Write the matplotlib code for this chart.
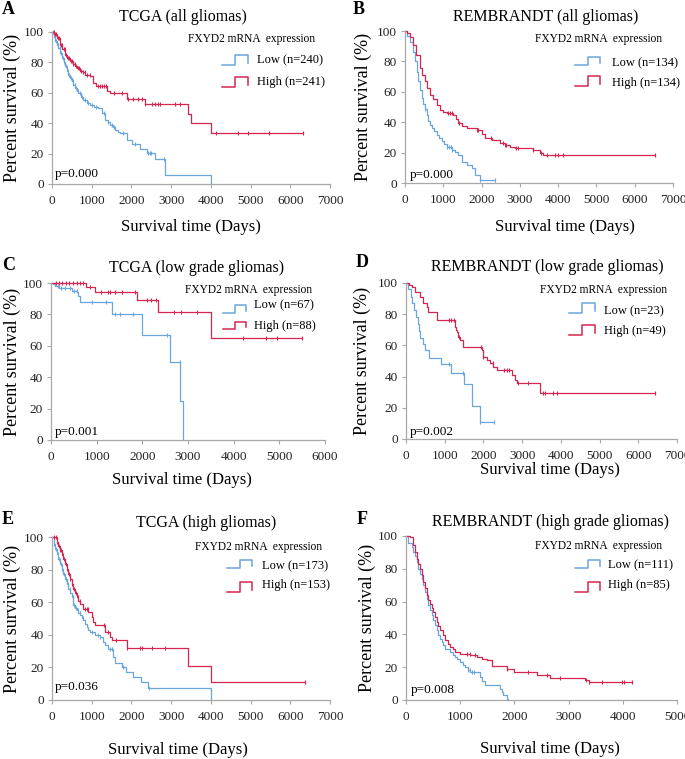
import numpy as np
import matplotlib
matplotlib.use("Agg")
import matplotlib.pyplot as plt
from matplotlib.lines import Line2D

plt.rcParams['font.family'] = ['Liberation Serif', 'DejaVu Serif']

W, H = 685, 759
LOW_COL = '#6aa6de'
HIGH_COL = '#d42650'
AX_COL = '#a8a8a8'

# ---------------------------------------------------------------------------
# survival data (days, percent survival)
# A: TCGA all gliomas
a_low_t = [0, 40, 75, 120, 160, 200, 244, 290, 328, 370, 412, 455, 496, 540, 580, 620, 664,
           730, 790, 870, 958, 1060, 1168, 1252, 1336, 1400, 1462, 1530, 1588, 1650, 1714,
           1882, 2008, 2218, 2386, 2596, 2850, 4008, 4008]
a_low_s = [100, 97, 94, 91.5, 89.5, 86, 83, 80, 77.4, 74.5, 72, 69.5, 67.5, 65, 63, 61.5, 60,
           57.5, 55.5, 53.5, 51.8, 50.8, 50, 46.7, 42, 40.5, 39, 37.5, 35.7, 34.5, 33.5,
           29, 26.3, 22.8, 20.2, 16.2, 5.9, 5.9, 0]
a_low_c = [30, 70, 110, 150, 190, 230, 270, 310, 350, 400, 440, 480, 520, 570, 610, 660, 700,
           760, 820, 900, 1000, 1100, 1320, 1420, 1500, 1560, 1800, 2092, 2420, 2470, 2500,
           2810]
a_high_t = [0, 60, 120, 200, 260, 328, 390, 454, 520, 580, 640, 706, 770, 832, 900, 958, 1042,
            1110, 1378, 1462, 1882, 2345, 3420, 3504, 4008, 6330]
a_high_s = [100, 98.5, 96, 91.7, 88.5, 85, 83, 80.7, 79, 77.4, 76, 74.6, 73.5, 72, 71.5, 70.8,
            66.4, 64.5, 61.5, 60, 56, 52.6, 46, 40, 33.3, 33.3]
a_high_c = [40, 80, 110, 150, 180, 220, 250, 290, 320, 360, 400, 430, 470, 500, 540, 570, 610,
            650, 690, 730, 780, 830, 880, 950, 1150, 1220, 1260, 1300, 1350, 1560, 1756, 1924,
            2050, 2176, 2260, 2345, 2512, 2596, 2680, 2722, 3100, 3226, 4134, 4672, 4924,
            5470, 6330]

# B: REMBRANDT all gliomas
b_low_t = [0, 60, 130, 200, 260, 305, 350, 390, 435, 475, 520, 565, 610, 650, 695, 760, 826,
           890, 957, 1020, 1087, 1217, 1300, 1390, 1478, 1610, 1740, 1826, 1957, 2350]
b_low_s = [100, 97, 93, 86, 80, 73, 67, 61, 56, 52, 49, 44.5, 40.6, 38, 36, 34, 31.8,
           29.5, 27.4, 25.5, 24, 22, 20.5, 18.6, 14, 12, 10, 5.5, 2, 2]
b_low_c = [520, 1110, 1150, 1190, 1230, 1957, 2350]
b_high_t = [0, 60, 130, 217, 300, 390, 455, 520, 585, 650, 740, 830, 913, 1000, 1087, 1260,
            1320, 1390, 1500, 1610, 1870, 2000, 2090, 2260, 2480, 2610, 2740, 2870, 3350,
            3520, 3610, 6520]
b_high_s = [100, 99, 96, 91, 84, 75.7, 71, 67, 62.5, 58, 55, 51, 48, 47, 46, 45,
            42, 39.5, 37.5, 36, 35, 32, 29.6, 28.5, 26, 25, 24, 23, 22,
            19.7, 18.3, 18.3]
b_high_c = [1130, 1170, 1220, 1400, 1870, 1910, 2250, 2570, 2610, 2650, 2910, 2960, 3350,
            3565, 3700, 3913, 4000, 4130, 6520]

# C: TCGA low grade gliomas
c_low_t = [0, 45, 95, 170, 460, 570, 600, 630, 640, 1340, 1990, 2610, 2830, 2860, 2880]
c_low_s = [100, 99.5, 98, 97, 95, 94, 92, 91, 88, 80, 67, 50, 25, 25, 0]
c_low_c = [80, 150, 220, 300, 420, 500, 560, 900, 1200, 1400, 1500, 1800, 2550, 2820]
c_high_t = [0, 770, 970, 1880, 2350, 3500, 5490]
c_high_s = [100, 97.5, 94, 89.4, 81.4, 65, 65]
c_high_c = [100, 180, 250, 320, 400, 480, 560, 640, 700, 850, 1100, 1250, 1300, 1400, 1550,
            1850, 2100, 2200, 2300, 2700, 2850, 3200, 4200, 4700, 4950, 5490]

# D: REMBRANDT low grade gliomas
d_low_t = [0, 40, 130, 160, 200, 270, 300, 330, 360, 450, 500, 600, 900, 1170, 1500, 1700,
           1920, 2280]
d_low_s = [100, 96, 91, 87, 83, 78, 74, 69, 65, 61, 57, 52, 48, 42, 35, 21, 10.6, 10.6]
d_low_c = [1100, 1480, 1920, 2280]
d_high_t = [0, 80, 147, 233, 362, 448, 534, 578, 793, 1267, 1290, 1310, 1353, 1397, 1483,
            1965, 2000, 2086, 2172, 2260, 2345, 2733, 2818, 2870, 3470, 6440]
d_high_s = [100, 98.5, 97.6, 94.4, 91, 87, 84.8, 81.6, 76.3, 72, 70, 68.8, 65.6, 63.5, 59,
            57, 52.8, 50.6, 48.5, 46.4, 44.2, 41, 37.8, 35.7, 29.8, 29.8]
d_high_c = [1100, 1160, 1250, 1380, 1930, 2000, 2240, 2540, 2600, 2650, 2900, 3150, 3550,
            3600, 3800, 3900, 6440]

# E: TCGA high gliomas
e_low_t = [0, 40, 76, 120, 160, 200, 244, 286, 328, 370, 412, 454, 496, 538, 580, 622, 664,
           706, 750, 790, 830, 874, 916, 958, 1084, 1210, 1294, 1336, 1420, 1540, 1580, 1750,
           1875, 2040, 2250, 2420, 4015, 4015]
e_low_s = [100, 96, 92.8, 89.7, 86.7, 83.7, 80.6, 77.5, 74.4, 71.3, 68.3, 65.7, 63, 58, 56.5,
           55, 53.5, 52, 50.5, 48.9, 46.8, 44.8, 43.2, 41.7, 39.7, 38.7, 35.6, 33.5, 31.5, 26.5,
           22.4, 20.4, 17.3, 14.3, 11, 7.5, 7.5, 0]
e_low_c = [60, 100, 140, 180, 220, 260, 300, 350, 400, 450, 520, 560, 600, 650, 700, 780,
           1000, 1150, 1210, 1460, 1500, 1800, 2450]
e_high_t = [0, 118, 160, 200, 245, 286, 330, 370, 410, 454, 496, 538, 580, 622, 664, 706, 790,
            916, 1000, 1042, 1084, 1336, 1462, 1504, 1882, 3430, 4015, 6370]
e_high_s = [100, 97, 94.5, 91.8, 89, 86.7, 83.5, 80.5, 77.5, 74.4, 71.3, 68.3, 65.5, 63.2, 61,
            59, 56, 53.8, 50.9, 47.9, 45.8, 41.7, 38.7, 36.6, 31.6, 21, 10.8, 10.8]
e_high_c = [60, 100, 130, 170, 200, 230, 270, 300, 340, 380, 420, 460, 500, 550, 600, 650,
            700, 820, 880, 900, 1300, 1420, 1600, 1882, 2220, 2260, 2510, 2850, 6370]

# F: REMBRANDT high grade gliomas
f_low_t = [0, 43, 105, 135, 166, 197, 227, 258, 289, 320, 350, 381, 412, 443, 474, 504, 535,
           566, 597, 627, 658, 689, 720, 812, 858, 904, 950, 996, 1043, 1089, 1135, 1181, 1365,
           1410, 1458, 1734, 1765, 1796, 1857, 1890]
f_low_s = [100, 96, 93, 90.5, 88, 84, 80, 77, 74, 70, 65.8, 61.7, 57.7, 54.6, 51.6, 48.5, 45.5,
           42.4, 39.4, 37.4, 35.4, 33.3, 31.3, 29.3, 27.7, 26.2, 24.7, 23.2, 21.6, 20.1, 18.5,
           17, 14, 11.5, 9, 6.9, 4.8, 2.8, 0.8, 0]
f_low_c = [1150, 1180, 1210, 1250]
f_high_t = [0, 74, 135, 166, 197, 228, 258, 289, 320, 350, 381, 412, 443, 474, 504, 535, 566,
            597, 627, 674, 720, 766, 812, 858, 904, 996, 1181, 1304, 1400, 1488, 1580, 1860,
            2000, 2410, 2660, 3305, 3370, 4170]
f_high_s = [100, 99.4, 94.3, 90, 86, 83, 80, 76, 72, 68, 63.8, 61.2, 58.7, 56.2, 53.7, 50.6,
            47.6, 45, 42.5, 39.5, 36.4, 34.3, 32.3, 30.8, 29.3, 28.3, 27.6, 26.2, 25.2, 24.2,
            21, 19, 17.3, 15.2, 13.6, 12.2, 11.2, 11.2]
f_high_c = [1120, 1180, 1270, 1860, 2250, 2600, 2850, 3320, 3380, 3620, 3980, 4020, 4170]

titles = ["TCGA (all gliomas)", "REMBRANDT (all gliomas)", "TCGA (low grade gliomas)",
          "REMBRANDT (low grade gliomas)", "TCGA (high gliomas)",
          "REMBRANDT (high grade gliomas)"]
letters = ["A", "B", "C", "D", "E", "F"]
n_low = [240, 134, 67, 23, 173, 111]
n_high = [241, 134, 88, 49, 153, 85]
pvals = ["0.000", "0.000", "0.001", "0.002", "0.036", "0.008"]
xmax = [7000, 7000, 6000, 7000, 7000, 5000]

curves = [
    (a_low_t, a_low_s, a_low_c, a_high_t, a_high_s, a_high_c),
    (b_low_t, b_low_s, b_low_c, b_high_t, b_high_s, b_high_c),
    (c_low_t, c_low_s, c_low_c, c_high_t, c_high_s, c_high_c),
    (d_low_t, d_low_s, d_low_c, d_high_t, d_high_s, d_high_c),
    (e_low_t, e_low_s, e_low_c, e_high_t, e_high_s, e_high_c),
    (f_low_t, f_low_s, f_low_c, f_high_t, f_high_s, f_high_c),
]

# ---------------------------------------------------------------------------
# layout in pixels of the original figure
# axes: left, right, top, bottom
axbox = [(52, 330, 32, 184), (405, 673, 31, 183), (51, 325, 283, 440),
         (406, 677, 283, 439), (52, 330, 537, 700), (406, 677, 536, 700)]
title_xy = [(183, 17), (546, 17), (197, 268), (547, 267), (206, 523), (551, 522)]
letter_xy = [(2, 9), (353, 9), (2, 265), (356, 263), (2, 520), (357, 520)]
ylab_x = [12, 363, 12, 362, 12, 367]
xlab_xy = [(191, 227), (565, 227), (182, 480), (550, 470), (178, 750), (550, 749)]
p_xy = [(55, 174), (410, 175), (55, 432), (410, 432), (55, 687), (411, 690)]
# header (left x, y), entry text left x, Low y, High y, glyph x0, x1,
# low glyph bottom/top, high glyph bottom/top
leg = [
    (188, 39, 257, 60, 82, 222, 248, 65, 55, 87, 77),
    (535, 39, 612, 63, 83, 575, 600, 65, 57, 86, 76),
    (185, 290, 254, 305, 326, 223, 246, 313, 305, 329, 322),
    (540, 290, 604, 311, 331, 569, 595, 313, 303, 335, 325),
    (195, 547, 262, 566, 585, 227, 252, 568, 560, 592, 582),
    (535, 546, 608, 565, 585, 575, 600, 568, 560, 592, 582),
]


def fx(x):
    return x / W


def fy(y):
    return 1 - y / H


def step_val(t, s, c):
    # value of the step curve at the censoring times
    t = np.asarray(t)
    s = np.asarray(s)
    idx = np.searchsorted(t, c, side='right') - 1
    return s[idx]


def glyph(fig, x0, x1, yb, yt, col):
    xm = x0 + (x1 - x0) * 0.5
    xs = [fx(x0), fx(xm), fx(xm), fx(x1), fx(x1)]
    ys = [fy(yb), fy(yb), fy(yt), fy(yt), fy(yb - 2)]
    fig.add_artist(Line2D(xs, ys, color=col, lw=1.1, transform=fig.transFigure))


fig = plt.figure(figsize=(W / 100, H / 100), dpi=100)

for i in range(6):
    l, r, t, b = axbox[i]
    ax = fig.add_axes([fx(l), fy(b), (r - l) / W, (b - t) / H])
    lt, ls, lc, ht, hs, hc = curves[i]

    ax.step(lt, ls, where='post', color=LOW_COL, lw=0.9, clip_on=False)
    ax.plot(lc, step_val(lt, ls, lc), '|', color=LOW_COL, ms=3.5, mew=0.8, clip_on=False)
    ax.step(ht, hs, where='post', color=HIGH_COL, lw=0.9, clip_on=False)
    ax.plot(hc, step_val(ht, hs, hc), '|', color=HIGH_COL, ms=3.5, mew=0.8, clip_on=False)

    ax.set_xlim(0, xmax[i])
    ax.set_ylim(0, 100)
    ax.set_xticks(np.arange(0, xmax[i] + 1, 1000))
    ax.set_yticks(np.arange(0, 101, 20))
    for side in ['top', 'right']:
        ax.spines[side].set_visible(False)
    for side in ['left', 'bottom']:
        ax.spines[side].set_color(AX_COL)
        ax.spines[side].set_linewidth(0.9)
    ax.tick_params(direction='out', length=3, width=0.8, color=AX_COL,
                   labelsize=9.5, labelcolor='#222222', pad=3)
    ax.tick_params(axis='x', pad=5)

    fig.text(fx(title_xy[i][0]), fy(title_xy[i][1]), titles[i], ha='center', va='center',
             fontsize=11.5)
    fig.text(fx(letter_xy[i][0]), fy(letter_xy[i][1]), letters[i], ha='left', va='center',
             fontsize=13, fontweight='bold')
    fig.text(fx(ylab_x[i]), fy((t + b) / 2), "Percent survival (%)", rotation=90,
             ha='center', va='center', fontsize=13)
    fig.text(fx(xlab_xy[i][0]), fy(xlab_xy[i][1]), "Survival time (Days)", ha='center',
             va='center', fontsize=12)
    fig.text(fx(p_xy[i][0]), fy(p_xy[i][1]), "p=" + pvals[i], ha='left', va='center',
             fontsize=9.5)

    hx, hy, ex, ly, hiy, gx0, gx1, lb, ltp, hb, htp = leg[i]
    fig.text(fx(hx), fy(hy), "FXYD2 mRNA  expression", ha='left', va='center', fontsize=8.3)
    fig.text(fx(ex), fy(ly), "Low (n=%d)" % n_low[i], ha='left', va='center', fontsize=9)
    fig.text(fx(ex), fy(hiy), "High (n=%d)" % n_high[i], ha='left', va='center', fontsize=9)
    glyph(fig, gx0, gx1, lb, ltp, LOW_COL)
    glyph(fig, gx0, gx1, hb, htp, HIGH_COL)

fig.savefig("out.png", dpi=100)
